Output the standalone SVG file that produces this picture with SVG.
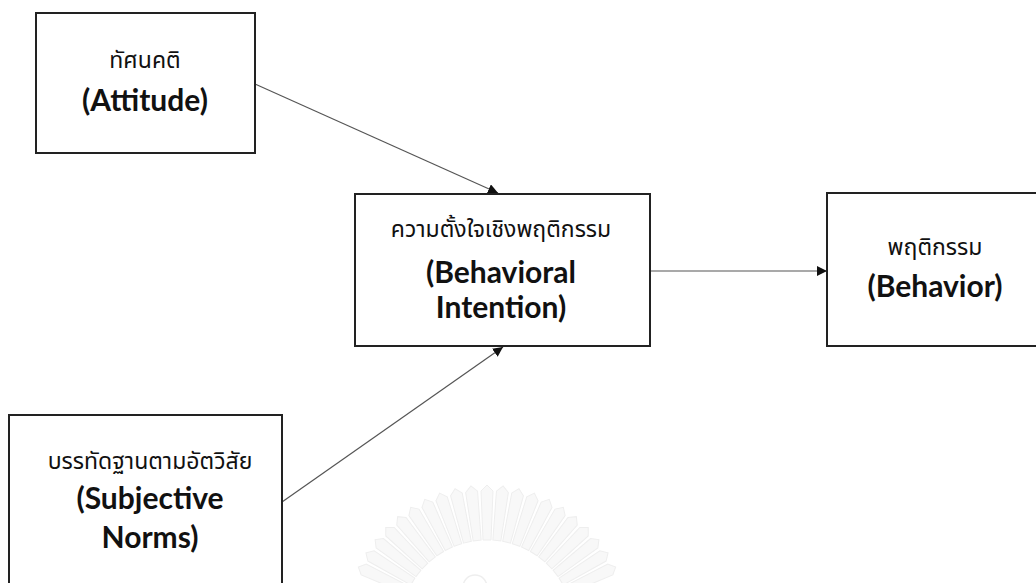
<svg xmlns="http://www.w3.org/2000/svg" width="1036" height="583" viewBox="0 0 1036 583">
  <defs>
    <style>
      .box { fill: #ffffff; stroke: #222222; stroke-width: 2; }
      .th { font-family: "Noto Sans Thai", "Noto Sans", "DejaVu Sans", sans-serif; font-size: 23px; fill: #111111; text-anchor: middle; }
      .en { font-family: Lato, "Liberation Sans", sans-serif; font-weight: bold; font-size: 30px; fill: #111111; text-anchor: middle; }
      .conn { stroke: #555555; stroke-width: 1.2; fill: none; marker-end: url(#arrow); }
      .ray { fill: #f8f8f8; stroke: #eeeeee; stroke-width: 1; }
    </style>
    <marker id="arrow" viewBox="0 0 10 10" refX="10" refY="5" markerWidth="10" markerHeight="10" markerUnits="userSpaceOnUse" orient="auto">
      <path d="M0,0 L10,5 L0,10 z" fill="#111111"/>
    </marker>
    <polygon id="rayShape" points="-4,-87 4,-87 6,-136 0,-142 -6,-136"/>
  </defs>

  <rect width="1036" height="583" fill="#ffffff"/>

  <!-- faint seal in the background -->
  <g id="seal" transform="translate(487,627)">
    <use href="#rayShape" class="ray" transform="rotate(-65)"/>
    <use href="#rayShape" class="ray" transform="rotate(-58.5)"/>
    <use href="#rayShape" class="ray" transform="rotate(-52)"/>
    <use href="#rayShape" class="ray" transform="rotate(-45.5)"/>
    <use href="#rayShape" class="ray" transform="rotate(-39)"/>
    <use href="#rayShape" class="ray" transform="rotate(-32.5)"/>
    <use href="#rayShape" class="ray" transform="rotate(-26)"/>
    <use href="#rayShape" class="ray" transform="rotate(-19.5)"/>
    <use href="#rayShape" class="ray" transform="rotate(-13)"/>
    <use href="#rayShape" class="ray" transform="rotate(-6.5)"/>
    <use href="#rayShape" class="ray" transform="rotate(0)"/>
    <use href="#rayShape" class="ray" transform="rotate(6.5)"/>
    <use href="#rayShape" class="ray" transform="rotate(13)"/>
    <use href="#rayShape" class="ray" transform="rotate(19.5)"/>
    <use href="#rayShape" class="ray" transform="rotate(26)"/>
    <use href="#rayShape" class="ray" transform="rotate(32.5)"/>
    <use href="#rayShape" class="ray" transform="rotate(39)"/>
    <use href="#rayShape" class="ray" transform="rotate(45.5)"/>
    <use href="#rayShape" class="ray" transform="rotate(52)"/>
    <use href="#rayShape" class="ray" transform="rotate(58.5)"/>
    <use href="#rayShape" class="ray" transform="rotate(65)"/>
    <circle cx="-12" cy="-40" r="12" fill="none" stroke="#eeeeee" stroke-width="1.5"/>
  </g>

  <!-- connectors -->
  <g id="connectors">
    <line class="conn" x1="255" y1="84" x2="498" y2="193"/>
    <line class="conn" x1="282" y1="502" x2="503" y2="347"/>
    <line class="conn" x1="651" y1="271" x2="827" y2="271"/>
  </g>

  <g id="attitude">
    <rect class="box" x="36" y="13" width="219" height="140"/>
    <text class="th" x="145" y="68">ทัศนคติ</text>
    <text class="en" x="145" y="111">(Attitude)</text>
  </g>

  <g id="intention">
    <rect class="box" x="355" y="194" width="295" height="152"/>
    <text class="th" x="501" y="237">ความตั้งใจเชิงพฤติกรรม</text>
    <text class="en" x="501" y="283">(Behavioral</text>
    <text class="en" x="501" y="318">Intention)</text>
  </g>

  <g id="behavior">
    <rect class="box" x="827" y="193" width="220" height="153"/>
    <text class="th" x="935" y="255">พฤติกรรม</text>
    <text class="en" x="935" y="297">(Behavior)</text>
  </g>

  <g id="norms">
    <rect class="box" x="9" y="415" width="273" height="190"/>
    <text class="th" x="150" y="469">บรรทัดฐานตามอัตวิสัย</text>
    <text class="en" x="150" y="509">(Subjective</text>
    <text class="en" x="150" y="548">Norms)</text>
  </g>
</svg>
